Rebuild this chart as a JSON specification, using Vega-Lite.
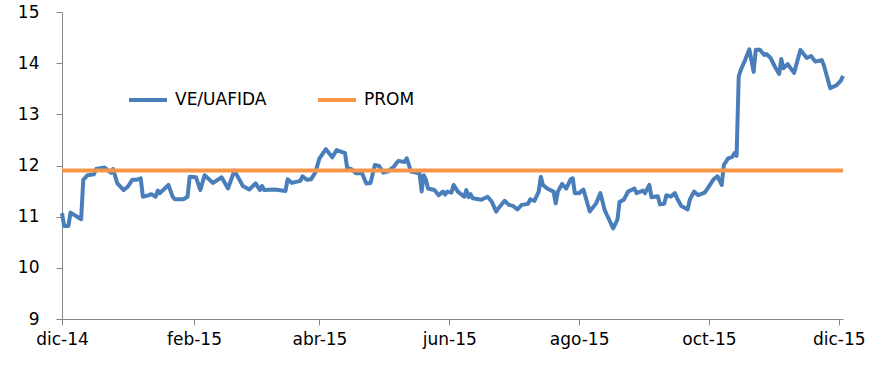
{
  "$schema": "https://vega.github.io/schema/vega-lite/v6.json",
  "width": 781,
  "height": 307,
  "autosize": "none",
  "padding": {"left": 62, "top": 12, "right": 38, "bottom": 59},
  "config": {
    "view": {"stroke": null},
    "font": "DejaVu Sans",
    "axis": {
      "domainColor": "#868686",
      "tickColor": "#868686",
      "tickSize": 6,
      "labelFont": "DejaVu Sans",
      "labelFontSize": 17,
      "labelColor": "#000000",
      "grid": false,
      "title": null
    },
    "legend": {
      "labelFont": "DejaVu Sans",
      "labelFontSize": 17,
      "labelColor": "#000000"
    }
  },
  "data": {
    "values": [
      {"d":"2014-12-01","s":"VE/UAFIDA","v":11.07},
      {"d":"2014-12-02","s":"VE/UAFIDA","v":10.82},
      {"d":"2014-12-04","s":"VE/UAFIDA","v":10.82},
      {"d":"2014-12-05","s":"VE/UAFIDA","v":11.08},
      {"d":"2014-12-10","s":"VE/UAFIDA","v":10.95},
      {"d":"2014-12-11","s":"VE/UAFIDA","v":11.72},
      {"d":"2014-12-13","s":"VE/UAFIDA","v":11.81},
      {"d":"2014-12-16","s":"VE/UAFIDA","v":11.83},
      {"d":"2014-12-17","s":"VE/UAFIDA","v":11.93},
      {"d":"2014-12-21","s":"VE/UAFIDA","v":11.96},
      {"d":"2014-12-24","s":"VE/UAFIDA","v":11.86},
      {"d":"2014-12-25","s":"VE/UAFIDA","v":11.93},
      {"d":"2014-12-27","s":"VE/UAFIDA","v":11.65},
      {"d":"2014-12-30","s":"VE/UAFIDA","v":11.52},
      {"d":"2015-01-01","s":"VE/UAFIDA","v":11.59},
      {"d":"2015-01-03","s":"VE/UAFIDA","v":11.72},
      {"d":"2015-01-05","s":"VE/UAFIDA","v":11.72},
      {"d":"2015-01-07","s":"VE/UAFIDA","v":11.75},
      {"d":"2015-01-08","s":"VE/UAFIDA","v":11.39},
      {"d":"2015-01-11","s":"VE/UAFIDA","v":11.42},
      {"d":"2015-01-12","s":"VE/UAFIDA","v":11.44},
      {"d":"2015-01-14","s":"VE/UAFIDA","v":11.39},
      {"d":"2015-01-15","s":"VE/UAFIDA","v":11.51},
      {"d":"2015-01-16","s":"VE/UAFIDA","v":11.46},
      {"d":"2015-01-20","s":"VE/UAFIDA","v":11.62},
      {"d":"2015-01-22","s":"VE/UAFIDA","v":11.39},
      {"d":"2015-01-23","s":"VE/UAFIDA","v":11.34},
      {"d":"2015-01-27","s":"VE/UAFIDA","v":11.34},
      {"d":"2015-01-29","s":"VE/UAFIDA","v":11.39},
      {"d":"2015-01-30","s":"VE/UAFIDA","v":11.78},
      {"d":"2015-02-02","s":"VE/UAFIDA","v":11.77},
      {"d":"2015-02-04","s":"VE/UAFIDA","v":11.52},
      {"d":"2015-02-06","s":"VE/UAFIDA","v":11.81},
      {"d":"2015-02-10","s":"VE/UAFIDA","v":11.66},
      {"d":"2015-02-14","s":"VE/UAFIDA","v":11.77},
      {"d":"2015-02-17","s":"VE/UAFIDA","v":11.55},
      {"d":"2015-02-20","s":"VE/UAFIDA","v":11.9},
      {"d":"2015-02-24","s":"VE/UAFIDA","v":11.6},
      {"d":"2015-02-27","s":"VE/UAFIDA","v":11.53},
      {"d":"2015-03-02","s":"VE/UAFIDA","v":11.65},
      {"d":"2015-03-04","s":"VE/UAFIDA","v":11.52},
      {"d":"2015-03-05","s":"VE/UAFIDA","v":11.6},
      {"d":"2015-03-06","s":"VE/UAFIDA","v":11.52},
      {"d":"2015-03-11","s":"VE/UAFIDA","v":11.53},
      {"d":"2015-03-16","s":"VE/UAFIDA","v":11.5},
      {"d":"2015-03-17","s":"VE/UAFIDA","v":11.73},
      {"d":"2015-03-19","s":"VE/UAFIDA","v":11.66},
      {"d":"2015-03-23","s":"VE/UAFIDA","v":11.7},
      {"d":"2015-03-24","s":"VE/UAFIDA","v":11.79},
      {"d":"2015-03-26","s":"VE/UAFIDA","v":11.72},
      {"d":"2015-03-28","s":"VE/UAFIDA","v":11.73},
      {"d":"2015-03-30","s":"VE/UAFIDA","v":11.86},
      {"d":"2015-04-01","s":"VE/UAFIDA","v":12.14},
      {"d":"2015-04-04","s":"VE/UAFIDA","v":12.32},
      {"d":"2015-04-07","s":"VE/UAFIDA","v":12.16},
      {"d":"2015-04-09","s":"VE/UAFIDA","v":12.3},
      {"d":"2015-04-13","s":"VE/UAFIDA","v":12.24},
      {"d":"2015-04-14","s":"VE/UAFIDA","v":11.95},
      {"d":"2015-04-16","s":"VE/UAFIDA","v":11.93},
      {"d":"2015-04-18","s":"VE/UAFIDA","v":11.85},
      {"d":"2015-04-21","s":"VE/UAFIDA","v":11.85},
      {"d":"2015-04-23","s":"VE/UAFIDA","v":11.65},
      {"d":"2015-04-25","s":"VE/UAFIDA","v":11.66},
      {"d":"2015-04-27","s":"VE/UAFIDA","v":12.01},
      {"d":"2015-04-29","s":"VE/UAFIDA","v":11.99},
      {"d":"2015-05-01","s":"VE/UAFIDA","v":11.86},
      {"d":"2015-05-03","s":"VE/UAFIDA","v":11.88},
      {"d":"2015-05-06","s":"VE/UAFIDA","v":11.98},
      {"d":"2015-05-08","s":"VE/UAFIDA","v":12.09},
      {"d":"2015-05-11","s":"VE/UAFIDA","v":12.07},
      {"d":"2015-05-12","s":"VE/UAFIDA","v":12.14},
      {"d":"2015-05-14","s":"VE/UAFIDA","v":11.88},
      {"d":"2015-05-18","s":"VE/UAFIDA","v":11.85},
      {"d":"2015-05-19","s":"VE/UAFIDA","v":11.49},
      {"d":"2015-05-20","s":"VE/UAFIDA","v":11.81},
      {"d":"2015-05-21","s":"VE/UAFIDA","v":11.72},
      {"d":"2015-05-22","s":"VE/UAFIDA","v":11.55},
      {"d":"2015-05-25","s":"VE/UAFIDA","v":11.52},
      {"d":"2015-05-27","s":"VE/UAFIDA","v":11.42},
      {"d":"2015-05-29","s":"VE/UAFIDA","v":11.49},
      {"d":"2015-05-30","s":"VE/UAFIDA","v":11.43},
      {"d":"2015-05-31","s":"VE/UAFIDA","v":11.49},
      {"d":"2015-06-02","s":"VE/UAFIDA","v":11.47},
      {"d":"2015-06-03","s":"VE/UAFIDA","v":11.62},
      {"d":"2015-06-05","s":"VE/UAFIDA","v":11.49},
      {"d":"2015-06-08","s":"VE/UAFIDA","v":11.39},
      {"d":"2015-06-09","s":"VE/UAFIDA","v":11.52},
      {"d":"2015-06-10","s":"VE/UAFIDA","v":11.38},
      {"d":"2015-06-11","s":"VE/UAFIDA","v":11.44},
      {"d":"2015-06-12","s":"VE/UAFIDA","v":11.36},
      {"d":"2015-06-16","s":"VE/UAFIDA","v":11.33},
      {"d":"2015-06-19","s":"VE/UAFIDA","v":11.39},
      {"d":"2015-06-21","s":"VE/UAFIDA","v":11.29},
      {"d":"2015-06-23","s":"VE/UAFIDA","v":11.1},
      {"d":"2015-06-24","s":"VE/UAFIDA","v":11.16},
      {"d":"2015-06-27","s":"VE/UAFIDA","v":11.31},
      {"d":"2015-06-29","s":"VE/UAFIDA","v":11.23},
      {"d":"2015-07-01","s":"VE/UAFIDA","v":11.21},
      {"d":"2015-07-03","s":"VE/UAFIDA","v":11.14},
      {"d":"2015-07-05","s":"VE/UAFIDA","v":11.23},
      {"d":"2015-07-08","s":"VE/UAFIDA","v":11.25},
      {"d":"2015-07-09","s":"VE/UAFIDA","v":11.34},
      {"d":"2015-07-11","s":"VE/UAFIDA","v":11.31},
      {"d":"2015-07-13","s":"VE/UAFIDA","v":11.49},
      {"d":"2015-07-14","s":"VE/UAFIDA","v":11.78},
      {"d":"2015-07-15","s":"VE/UAFIDA","v":11.62},
      {"d":"2015-07-17","s":"VE/UAFIDA","v":11.55},
      {"d":"2015-07-20","s":"VE/UAFIDA","v":11.49},
      {"d":"2015-07-21","s":"VE/UAFIDA","v":11.26},
      {"d":"2015-07-22","s":"VE/UAFIDA","v":11.49},
      {"d":"2015-07-24","s":"VE/UAFIDA","v":11.64},
      {"d":"2015-07-26","s":"VE/UAFIDA","v":11.55},
      {"d":"2015-07-28","s":"VE/UAFIDA","v":11.73},
      {"d":"2015-07-29","s":"VE/UAFIDA","v":11.75},
      {"d":"2015-07-30","s":"VE/UAFIDA","v":11.46},
      {"d":"2015-08-01","s":"VE/UAFIDA","v":11.46},
      {"d":"2015-08-03","s":"VE/UAFIDA","v":11.53},
      {"d":"2015-08-06","s":"VE/UAFIDA","v":11.1},
      {"d":"2015-08-09","s":"VE/UAFIDA","v":11.26},
      {"d":"2015-08-11","s":"VE/UAFIDA","v":11.46},
      {"d":"2015-08-13","s":"VE/UAFIDA","v":11.13},
      {"d":"2015-08-17","s":"VE/UAFIDA","v":10.77},
      {"d":"2015-08-19","s":"VE/UAFIDA","v":10.94},
      {"d":"2015-08-20","s":"VE/UAFIDA","v":11.29},
      {"d":"2015-08-22","s":"VE/UAFIDA","v":11.33},
      {"d":"2015-08-24","s":"VE/UAFIDA","v":11.49},
      {"d":"2015-08-27","s":"VE/UAFIDA","v":11.55},
      {"d":"2015-08-28","s":"VE/UAFIDA","v":11.46},
      {"d":"2015-08-31","s":"VE/UAFIDA","v":11.51},
      {"d":"2015-09-01","s":"VE/UAFIDA","v":11.46},
      {"d":"2015-09-03","s":"VE/UAFIDA","v":11.62},
      {"d":"2015-09-04","s":"VE/UAFIDA","v":11.38},
      {"d":"2015-09-07","s":"VE/UAFIDA","v":11.4},
      {"d":"2015-09-08","s":"VE/UAFIDA","v":11.24},
      {"d":"2015-09-10","s":"VE/UAFIDA","v":11.25},
      {"d":"2015-09-11","s":"VE/UAFIDA","v":11.42},
      {"d":"2015-09-13","s":"VE/UAFIDA","v":11.39},
      {"d":"2015-09-15","s":"VE/UAFIDA","v":11.46},
      {"d":"2015-09-16","s":"VE/UAFIDA","v":11.36},
      {"d":"2015-09-18","s":"VE/UAFIDA","v":11.21},
      {"d":"2015-09-21","s":"VE/UAFIDA","v":11.14},
      {"d":"2015-09-22","s":"VE/UAFIDA","v":11.33},
      {"d":"2015-09-24","s":"VE/UAFIDA","v":11.49},
      {"d":"2015-09-26","s":"VE/UAFIDA","v":11.42},
      {"d":"2015-09-29","s":"VE/UAFIDA","v":11.47},
      {"d":"2015-09-30","s":"VE/UAFIDA","v":11.53},
      {"d":"2015-10-03","s":"VE/UAFIDA","v":11.72},
      {"d":"2015-10-05","s":"VE/UAFIDA","v":11.79},
      {"d":"2015-10-07","s":"VE/UAFIDA","v":11.62},
      {"d":"2015-10-08","s":"VE/UAFIDA","v":12.01},
      {"d":"2015-10-10","s":"VE/UAFIDA","v":12.14},
      {"d":"2015-10-12","s":"VE/UAFIDA","v":12.17},
      {"d":"2015-10-13","s":"VE/UAFIDA","v":12.24},
      {"d":"2015-10-14","s":"VE/UAFIDA","v":12.19},
      {"d":"2015-10-15","s":"VE/UAFIDA","v":13.74},
      {"d":"2015-10-16","s":"VE/UAFIDA","v":13.87},
      {"d":"2015-10-18","s":"VE/UAFIDA","v":14.06},
      {"d":"2015-10-20","s":"VE/UAFIDA","v":14.27},
      {"d":"2015-10-22","s":"VE/UAFIDA","v":13.83},
      {"d":"2015-10-23","s":"VE/UAFIDA","v":14.26},
      {"d":"2015-10-25","s":"VE/UAFIDA","v":14.26},
      {"d":"2015-10-27","s":"VE/UAFIDA","v":14.16},
      {"d":"2015-10-28","s":"VE/UAFIDA","v":14.18},
      {"d":"2015-10-30","s":"VE/UAFIDA","v":14.1},
      {"d":"2015-11-01","s":"VE/UAFIDA","v":13.93},
      {"d":"2015-11-03","s":"VE/UAFIDA","v":13.79},
      {"d":"2015-11-04","s":"VE/UAFIDA","v":14.08},
      {"d":"2015-11-05","s":"VE/UAFIDA","v":13.9},
      {"d":"2015-11-07","s":"VE/UAFIDA","v":13.98},
      {"d":"2015-11-10","s":"VE/UAFIDA","v":13.81},
      {"d":"2015-11-13","s":"VE/UAFIDA","v":14.26},
      {"d":"2015-11-16","s":"VE/UAFIDA","v":14.1},
      {"d":"2015-11-18","s":"VE/UAFIDA","v":14.14},
      {"d":"2015-11-20","s":"VE/UAFIDA","v":14.03},
      {"d":"2015-11-23","s":"VE/UAFIDA","v":14.06},
      {"d":"2015-11-24","s":"VE/UAFIDA","v":13.96},
      {"d":"2015-11-27","s":"VE/UAFIDA","v":13.51},
      {"d":"2015-11-30","s":"VE/UAFIDA","v":13.57},
      {"d":"2015-12-02","s":"VE/UAFIDA","v":13.66},
      {"d":"2015-12-03","s":"VE/UAFIDA","v":13.75},
      {"d":"2014-12-01","s":"PROM","v":11.9},
      {"d":"2015-12-03","s":"PROM","v":11.9}
    ]
  },
  "mark": {"type": "line", "strokeWidth": 4, "strokeJoin": "round", "clip": false},
  "encoding": {
    "x": {
      "field": "d",
      "type": "temporal",
      "scale": {
        "type": "utc",
        "domain": [
          {"year": 2014, "month": 12, "date": 1, "utc": true},
          {"year": 2015, "month": 12, "date": 3, "utc": true}
        ]
      },
      "axis": {
        "values": [
          {"year": 2014, "month": 12, "date": 1, "utc": true},
          {"year": 2015, "month": 2, "date": 1, "utc": true},
          {"year": 2015, "month": 4, "date": 1, "utc": true},
          {"year": 2015, "month": 6, "date": 1, "utc": true},
          {"year": 2015, "month": 8, "date": 1, "utc": true},
          {"year": 2015, "month": 10, "date": 1, "utc": true},
          {"year": 2015, "month": 12, "date": 1, "utc": true}
        ],
        "labelExpr": "['ene','feb','mar','abr','may','jun','jul','ago','sep','oct','nov','dic'][utcmonth(datum.value)] + '-' + utcFormat(datum.value, '%y')",
        "labelPadding": 6,
        "labelFlush": false,
        "labelOverlap": false
      }
    },
    "y": {
      "field": "v",
      "type": "quantitative",
      "scale": {"domain": [9, 15], "nice": false, "zero": false},
      "axis": {"values": [9, 10, 11, 12, 13, 14, 15], "labelPadding": 17}
    },
    "color": {
      "field": "s",
      "type": "nominal",
      "sort": ["VE/UAFIDA", "PROM"],
      "scale": {"domain": ["VE/UAFIDA", "PROM"], "range": ["#4A7EBB", "#F79646"]},
      "legend": {
        "title": null,
        "orient": "none",
        "direction": "horizontal",
        "legendX": 65,
        "legendY": 67,
        "padding": 0,
        "symbolType": "stroke",
        "symbolSize": 1444,
        "symbolStrokeWidth": 4,
        "labelOffset": 6,
        "columnPadding": 43
      }
    }
  }
}
